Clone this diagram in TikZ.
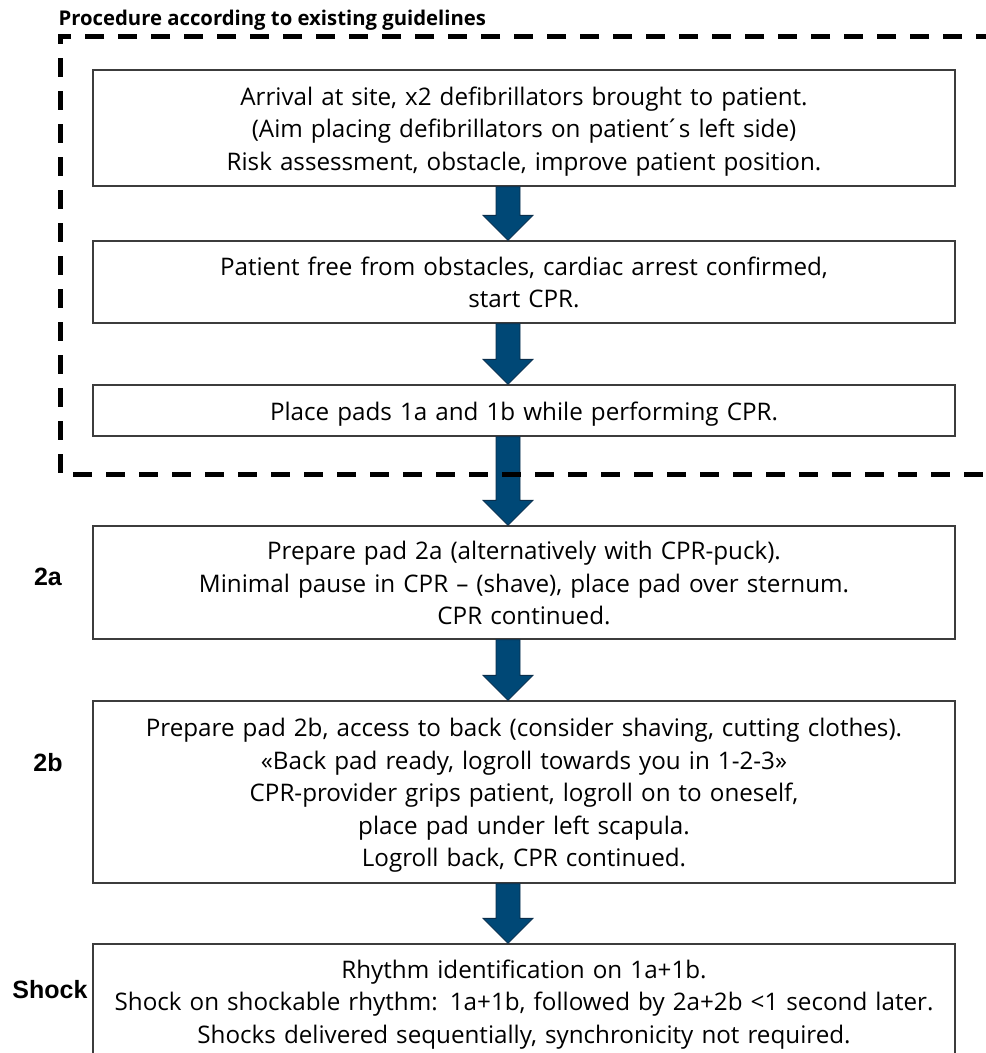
\documentclass[tikz,border=0pt]{standalone}
\usepackage{fontspec}
\setmainfont{Open Sans}
\newfontfamily\labelfont{Liberation Sans}
\usepackage{tikz}
\usetikzlibrary{arrows,shapes,positioning}
\usepackage{xcolor}
\definecolor{padblue}{RGB}{0,72,118}
\definecolor{padnavy}{RGB}{10,45,75}
\definecolor{boxgray}{RGB}{60,60,60}
\newcommand{\topstrut}{\rule{0pt}{25pt}}
\newcommand{\botstrut}{\rule[-6pt]{0pt}{0pt}}
\tikzstyle{stepbox} = [draw=boxgray, line width=1.3pt, text width=862pt, align=center, inner sep=0pt, font=\fontsize{24.2}{32.5}\selectfont, execute at begin node=\topstrut, execute at end node=\botstrut]
\tikzstyle{blockarrow} = [fill=padblue, draw=padnavy, line width=0.8pt, line join=miter]
\tikzstyle{guideline} = [line width=5pt, dash pattern=on 19pt off 14pt]
\tikzstyle{steplabel} = [font=\labelfont\bfseries\fontsize{25}{28}\selectfont]
\newcommand{\padarrow}[2]{%
  \draw[blockarrow] ([xshift=-28pt]#1.south) -- ([xshift=-4pt]#1.south)
    -- ([shift={(-4pt,25pt)}]#2.north) -- ([shift={(9pt,25pt)}]#2.north)
    -- ([xshift=-16pt]#2.north) -- ([shift={(-41pt,25pt)}]#2.north)
    -- ([shift={(-28pt,25pt)}]#2.north) -- cycle;}

\begin{document}
\begin{tikzpicture}[x=1pt, y=-1pt]
\useasboundingbox (0,0) rectangle (986,1053);
% Steps
\node[stepbox, minimum height=116pt] (arrival) at (524,128) {Arrival at site, x2 defibrillators brought to patient.\\(Aim placing defibrillators on patient\,\'{}s left side)\\Risk assessment, obstacle, improve patient position.};
\node[stepbox, minimum height=82pt] (cprstart) at (524,282) {Patient free from obstacles, cardiac arrest confirmed,\\start CPR.};
\node[stepbox, minimum height=51pt] (pads) at (524,410.5) {Place pads 1a and 1b while performing CPR.};
\node[stepbox, minimum height=113pt] (padA) at (524,582.5) {Prepare pad 2a (alternatively with CPR-puck).\\Minimal pause in CPR -- (shave), place pad over sternum.\\CPR continued.};
\node[stepbox, minimum height=182pt] (padB) at (524,792) {Prepare pad 2b, access to back (consider shaving, cutting clothes).\\«Back pad ready, logroll towards you in 1-2-3»\\CPR-provider grips patient, logroll on to oneself,\\place pad under left scapula.\\Logroll back, CPR continued.};
\node[stepbox, minimum height=114pt] (shock) at (524,1001) {Rhythm identification on 1a+1b.\\Shock on shockable rhythm: 1a+1b, followed by 2a+2b <1 second later.\\Shocks delivered sequentially, synchronicity not required.};
% Labels
\node[font=\bfseries\fontsize{20.3}{24}\selectfont, anchor=west] (guidetitle) at (55,20) {Procedure according to existing guidelines};
\node[steplabel] (labelA) at (48,577) {2a};
\node[steplabel] (labelB) at (48,763) {2b};
\node[steplabel] (labelShock) at (50,990) {Shock};
% Arrows
\padarrow{arrival}{cprstart}
\padarrow{cprstart}{pads}
\padarrow{pads}{padA}
\padarrow{padA}{padB}
\padarrow{padB}{shock}
% Existing guidelines frame
\draw[guideline] (995,36) -- (60,36) -- (60,474) -- (995,474);
\end{tikzpicture}
\end{document}
